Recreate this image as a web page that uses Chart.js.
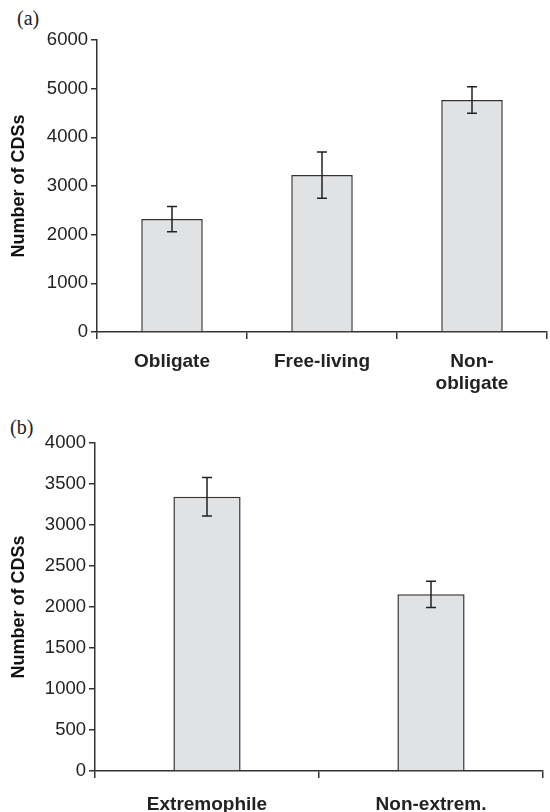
<!DOCTYPE html>
<html>
<head>
<meta charset="utf-8">
<script src="https://cdn.jsdelivr.net/npm/chart.js@4.4.0/dist/chart.umd.min.js"></script>
<style>
  html, body { margin: 0; padding: 0; background: #fff; }
  body { width: 550px; height: 812px; position: relative; overflow: hidden; }
  canvas { position: absolute; left: 0; }
  .panel { position: absolute; font-family: "Liberation Serif", "Times New Roman", serif; font-size: 20px; color: #222; line-height: 20px; }
</style>
</head>
<body>
<div class="panel" style="left:17px; top:8px;">(a)</div>
<div class="panel" style="left:10px; top:417px;">(b)</div>
<canvas id="ca" width="550" height="400" style="top:0px;"></canvas>
<canvas id="cb" width="550" height="412" style="top:400px;"></canvas>
<script>
// ---- Data ----
const categoriesA = ['Obligate', 'Free-living', ['Non-', 'obligate']];
const valuesA = [2320, 3225, 4765];
const errorsA = [260, 475, 272];
const yTicksA = { min: 0, max: 6000, step: 1000 };

const categoriesB = ['Extremophile', 'Non-extrem.'];
const valuesB = [3345, 2155];
const errorsB = [235, 160];
const yTicksB = { min: 0, max: 4000, step: 500 };

const yTitle = 'Number of CDSs';

// ---- Styles ----
const FAMILY = '"Liberation Sans", Arial, Helvetica, sans-serif';
const INK = '#222';
const AXIS = '#333';

const errorBarPlugin = {
  id: 'errorBars',
  afterDatasetsDraw(chart, args, opts) {
    const ctx = chart.ctx;
    const meta = chart.getDatasetMeta(0);
    const ys = chart.scales.y;
    const errs = opts.errors || [];
    const vals = chart.data.datasets[0].data;
    ctx.save();
    ctx.strokeStyle = INK;
    ctx.lineWidth = 1.5;
    meta.data.forEach((bar, i) => {
      const e = errs[i];
      if (e == null) return;
      const x = bar.x;
      const yt = ys.getPixelForValue(vals[i] + e);
      const yb = ys.getPixelForValue(vals[i] - e);
      const hw = 5;
      ctx.beginPath();
      ctx.moveTo(x, yt); ctx.lineTo(x, yb);
      ctx.moveTo(x - hw, yt); ctx.lineTo(x + hw, yt);
      ctx.moveTo(x - hw, yb); ctx.lineTo(x + hw, yb);
      ctx.stroke();
    });
    ctx.restore();
  }
};

function makeChart(id, cats, vals, errs, yt, cfg) {
  return new Chart(document.getElementById(id), {
    type: 'bar',
    data: {
      labels: cats,
      datasets: [{
        data: vals,
        backgroundColor: '#e1e2e4',
        borderColor: AXIS,
        borderWidth: 1.5,
        barPercentage: cfg.barPct,
        categoryPercentage: 1.0
      }]
    },
    options: {
      responsive: false,
      animation: false,
      events: [],
      layout: { padding: { top: cfg.padTop, right: cfg.padRight, left: 0, bottom: 0 } },
      plugins: {
        legend: { display: false },
        tooltip: { enabled: false },
        errorBars: { errors: errs }
      },
      scales: {
        x: {
          grid: { offset: true, drawOnChartArea: false, drawTicks: true, tickLength: 7, color: AXIS, lineWidth: 1.5 },
          border: { display: true, color: AXIS, width: 1.5 },
          ticks: {
            color: INK,
            padding: cfg.xPad,
            maxRotation: 0,
            autoSkip: false,
            font: { family: FAMILY, size: 19, weight: 'bold', lineHeight: 1.16 }
          },
          afterFit(scale) { scale.height = cfg.xHeight; }
        },
        y: {
          min: yt.min,
          max: yt.max,
          grid: { drawOnChartArea: false, drawTicks: true, tickLength: 6, color: AXIS, lineWidth: 1.5 },
          border: { display: true, color: AXIS, width: 1.5 },
          ticks: {
            stepSize: yt.step,
            color: INK,
            padding: 3,
            font: { family: FAMILY, size: 18.5 },
            callback: (v) => String(v)
          },
          title: {
            display: true,
            text: yTitle,
            color: '#111',
            padding: { top: 8, bottom: 0 },
            font: { family: FAMILY, size: 18, weight: 'bold' }
          },
          afterFit(scale) { scale.width = cfg.yWidth; }
        }
      }
    },
    plugins: [errorBarPlugin]
  });
}

makeChart('ca', categoriesA, valuesA, errorsA, yTicksA,
  { padTop: 40, padRight: 3, yWidth: 97, xHeight: 68, xPad: 12, barPct: 0.41 });
makeChart('cb', categoriesB, valuesB, errorsB, yTicksB,
  { padTop: 43, padRight: 7, yWidth: 95, xHeight: 41, xPad: 16, barPct: 0.30 });
</script>
</body>
</html>
